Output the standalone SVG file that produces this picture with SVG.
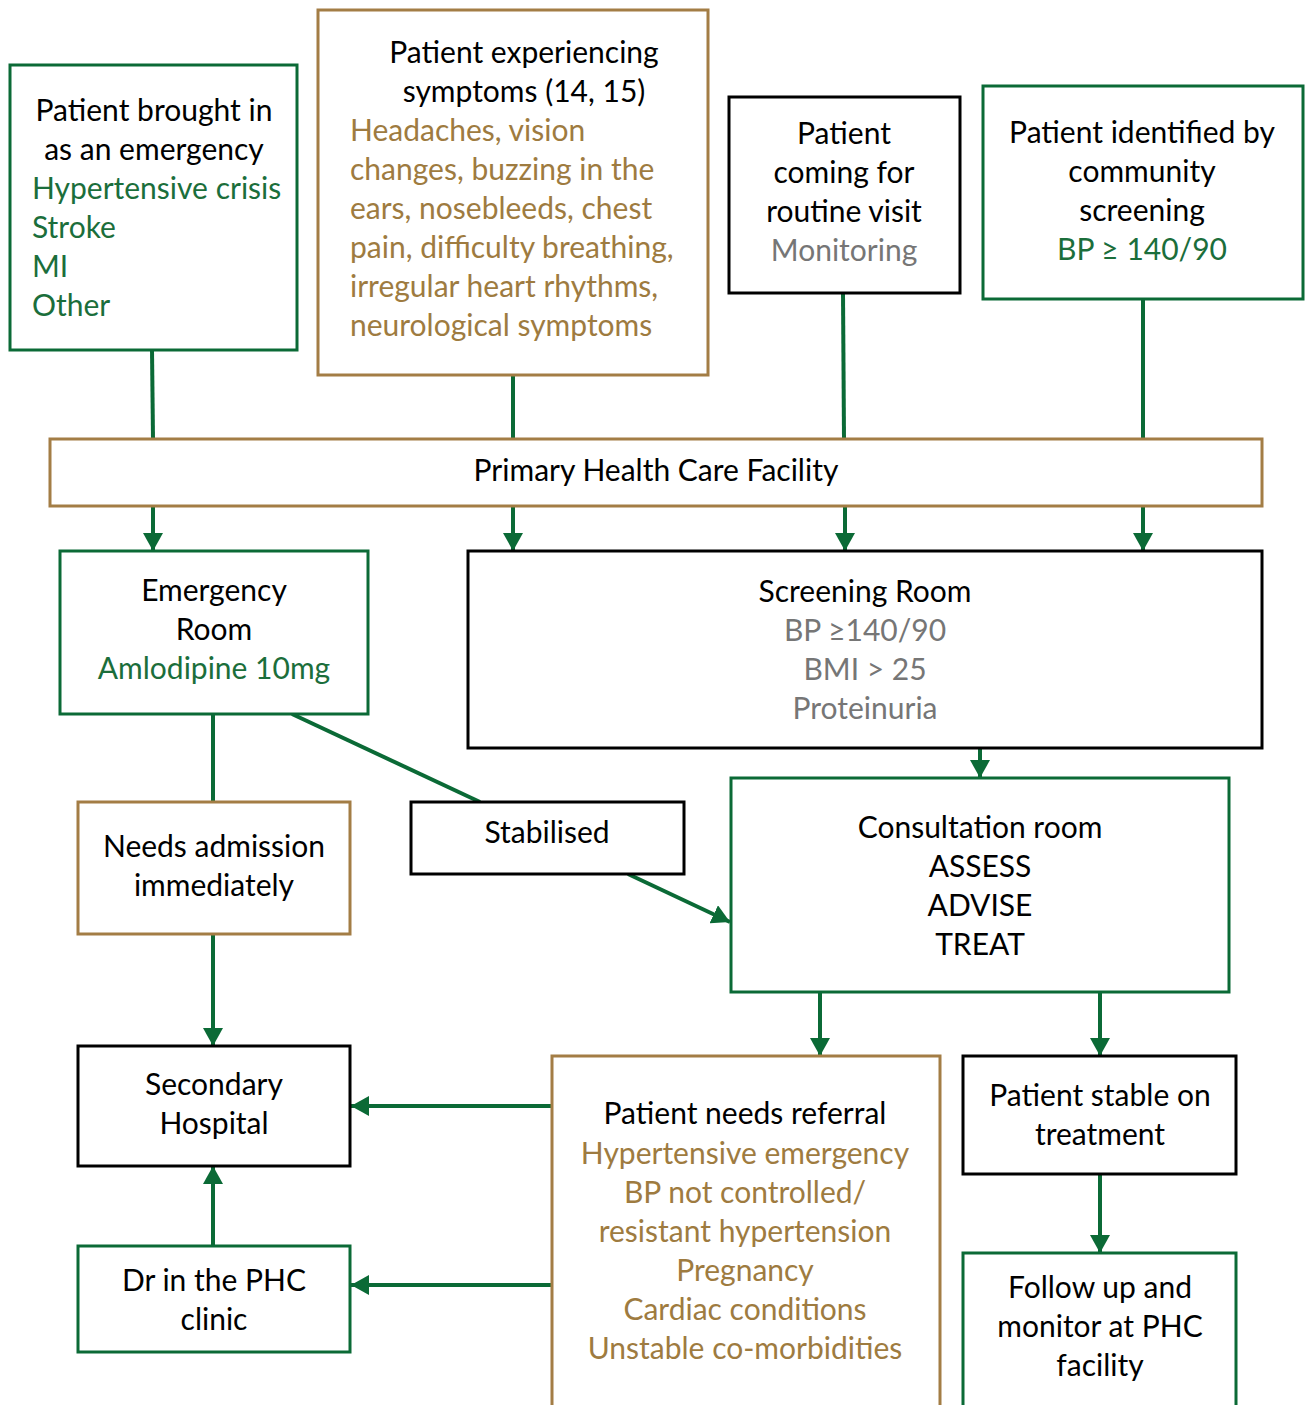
<svg xmlns="http://www.w3.org/2000/svg" width="1305" height="1405" viewBox="0 0 1305 1405">
  <style>
    text { font-family: Lato, "Open Sans", "Liberation Sans", sans-serif; font-size: 30px; fill: #000; }
    .c { text-anchor: middle; }
    .g { fill: #1B6E3B; }
    .b { fill: #9E7B40; }
    .s { fill: #767676; }
    .box { fill: #fff; stroke-width: 3; }
    .bg { stroke: #0B6A36; }
    .bb { stroke: #A37D45; }
    .bk { stroke: #000; }
    .ln { stroke: #0B6A36; stroke-width: 4; fill: none; }
    .ar { marker-end: url(#arrow); }
  </style>
  <defs>
    <marker id="arrow" markerUnits="userSpaceOnUse" markerWidth="20" markerHeight="20" refX="18" refY="10" orient="auto">
      <path d="M0,0 L18,10 L0,20 z" fill="#0B6A36"/>
    </marker>
  </defs>

  <g id="connectors">
    <line class="ln" x1="152" y1="350" x2="153" y2="439"/>
    <line class="ln" x1="513" y1="375" x2="513" y2="439"/>
    <line class="ln" x1="843" y1="293" x2="844" y2="439"/>
    <line class="ln" x1="1143" y1="299" x2="1143" y2="439"/>
    <line class="ln ar" x1="153" y1="506" x2="153" y2="551"/>
    <line class="ln ar" x1="513" y1="506" x2="513" y2="551"/>
    <line class="ln ar" x1="845" y1="506" x2="845" y2="551"/>
    <line class="ln ar" x1="1143" y1="506" x2="1143" y2="551"/>
    <line class="ln ar" x1="980" y1="748" x2="980" y2="778"/>
    <line class="ln" x1="213" y1="714" x2="213" y2="802"/>
    <line class="ln" x1="292" y1="714" x2="480" y2="802"/>
    <line class="ln ar" x1="628" y1="874" x2="730" y2="922"/>
    <line class="ln ar" x1="213" y1="934" x2="213" y2="1046"/>
    <line class="ln ar" x1="213" y1="1246" x2="213" y2="1166"/>
    <line class="ln ar" x1="820" y1="992" x2="820" y2="1056"/>
    <line class="ln ar" x1="1100" y1="992" x2="1100" y2="1056"/>
    <line class="ln ar" x1="1100" y1="1174" x2="1100" y2="1253"/>
    <line class="ln ar" x1="552" y1="1106" x2="351" y2="1106"/>
    <line class="ln ar" x1="552" y1="1285" x2="351" y2="1285"/>
  </g>

  <g id="emergency-arrival">
    <rect class="box bg" x="10" y="65" width="287" height="285"/>
    <text class="c" x="154" y="121">Patient brought in</text>
    <text class="c" x="154" y="160">as an emergency</text>
    <text class="g" x="32" y="199">Hypertensive crisis</text>
    <text class="g" x="32" y="238">Stroke</text>
    <text class="g" x="32" y="277">MI</text>
    <text class="g" x="32" y="316">Other</text>
  </g>

  <g id="symptoms">
    <rect class="box bb" x="318" y="10" width="390" height="365"/>
    <text class="c" x="524" y="63">Patient experiencing</text>
    <text class="c" x="524" y="102">symptoms (14, 15)</text>
    <text class="b" x="350" y="141">Headaches, vision</text>
    <text class="b" x="350" y="180">changes, buzzing in the</text>
    <text class="b" x="350" y="219">ears, nosebleeds, chest</text>
    <text class="b" x="350" y="258">pain, difficulty breathing,</text>
    <text class="b" x="350" y="297">irregular heart rhythms,</text>
    <text class="b" x="350" y="336">neurological symptoms</text>
  </g>

  <g id="routine-visit">
    <rect class="box bk" x="729" y="97" width="231" height="196"/>
    <text class="c" x="844" y="144">Patient</text>
    <text class="c" x="844" y="183">coming for</text>
    <text class="c" x="844" y="222">routine visit</text>
    <text class="c s" x="844" y="261">Monitoring</text>
  </g>

  <g id="community-screening">
    <rect class="box bg" x="983" y="86" width="320" height="213"/>
    <text class="c" x="1142" y="143">Patient identified by</text>
    <text class="c" x="1142" y="182">community</text>
    <text class="c" x="1142" y="221">screening</text>
    <text class="c g" x="1142" y="260">BP ≥ 140/90</text>
  </g>

  <g id="phc-facility">
    <rect class="box bb" x="50" y="439" width="1212" height="67"/>
    <text class="c" x="656" y="481">Primary Health Care Facility</text>
  </g>

  <g id="emergency-room">
    <rect class="box bg" x="60" y="551" width="308" height="163"/>
    <text class="c" x="214" y="601">Emergency</text>
    <text class="c" x="214" y="640">Room</text>
    <text class="c g" x="214" y="679">Amlodipine 10mg</text>
  </g>

  <g id="screening-room">
    <rect class="box bk" x="468" y="551" width="794" height="197"/>
    <text class="c" x="865" y="602">Screening Room</text>
    <text class="c s" x="865" y="641">BP ≥140/90</text>
    <text class="c s" x="865" y="680">BMI &gt; 25</text>
    <text class="c s" x="865" y="719">Proteinuria</text>
  </g>

  <g id="consultation-room">
    <rect class="box bg" x="731" y="778" width="498" height="214"/>
    <text class="c" x="980" y="838">Consultation room</text>
    <text class="c" x="980" y="877">ASSESS</text>
    <text class="c" x="980" y="916">ADVISE</text>
    <text class="c" x="980" y="955">TREAT</text>
  </g>

  <g id="needs-admission">
    <rect class="box bb" x="78" y="802" width="272" height="132"/>
    <text class="c" x="214" y="857">Needs admission</text>
    <text class="c" x="214" y="896">immediately</text>
  </g>

  <g id="stabilised">
    <rect class="box bk" x="411" y="802" width="273" height="72"/>
    <text class="c" x="547" y="843">Stabilised</text>
  </g>

  <g id="secondary-hospital">
    <rect class="box bk" x="78" y="1046" width="272" height="120"/>
    <text class="c" x="214" y="1095">Secondary</text>
    <text class="c" x="214" y="1134">Hospital</text>
  </g>

  <g id="phc-doctor">
    <rect class="box bg" x="78" y="1246" width="272" height="106"/>
    <text class="c" x="214" y="1291">Dr in the PHC</text>
    <text class="c" x="214" y="1330">clinic</text>
  </g>

  <g id="referral">
    <rect class="box bb" x="552" y="1056" width="388" height="370"/>
    <text class="c" x="745" y="1124">Patient needs referral</text>
    <text class="c b" x="745" y="1164">Hypertensive emergency</text>
    <text class="c b" x="745" y="1203">BP not controlled/</text>
    <text class="c b" x="745" y="1242">resistant hypertension</text>
    <text class="c b" x="745" y="1281">Pregnancy</text>
    <text class="c b" x="745" y="1320">Cardiac conditions</text>
    <text class="c b" x="745" y="1359">Unstable co-morbidities</text>
  </g>

  <g id="stable-on-treatment">
    <rect class="box bk" x="963" y="1056" width="273" height="118"/>
    <text class="c" x="1100" y="1106">Patient stable on</text>
    <text class="c" x="1100" y="1145">treatment</text>
  </g>

  <g id="follow-up">
    <rect class="box bg" x="963" y="1253" width="273" height="170"/>
    <text class="c" x="1100" y="1298">Follow up and</text>
    <text class="c" x="1100" y="1337">monitor at PHC</text>
    <text class="c" x="1100" y="1376">facility</text>
  </g>
</svg>
